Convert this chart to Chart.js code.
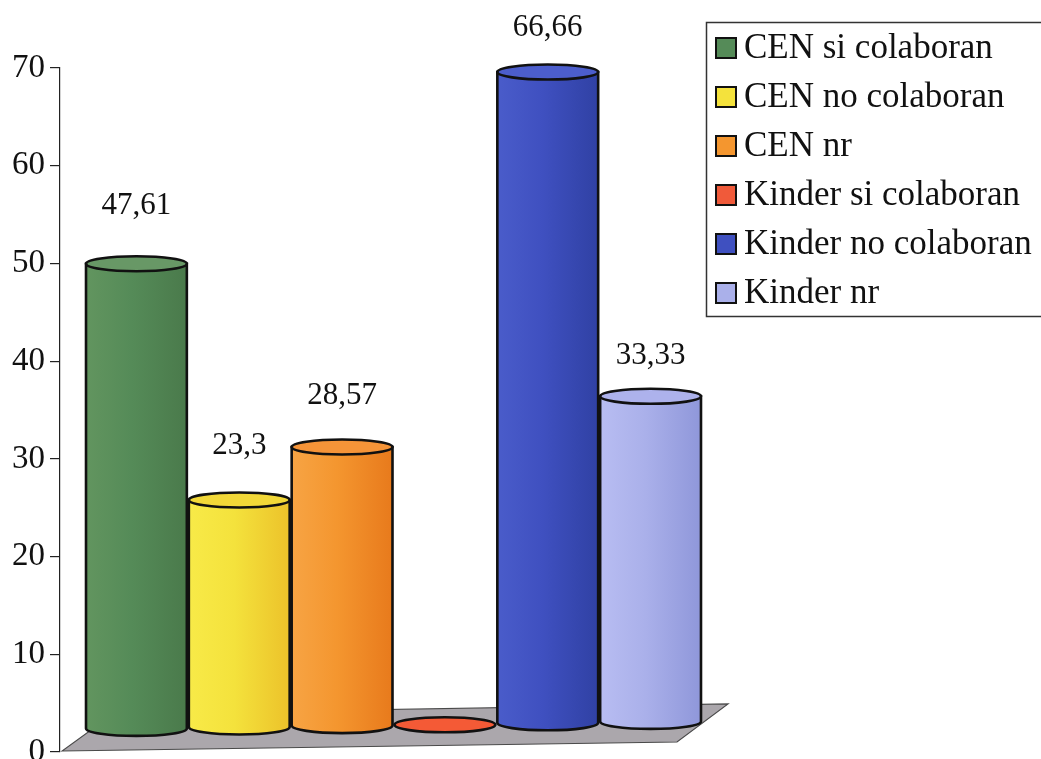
<!DOCTYPE html>
<html>
<head>
<meta charset="utf-8">
<script src="https://cdn.jsdelivr.net/npm/chart.js@4.4.1/dist/chart.umd.min.js"></script>
<style>
  html, body { margin: 0; padding: 0; background: #fff; overflow: hidden; }
  #wrap { width: 1041px; height: 759px; overflow: hidden; }
</style>
</head>
<body>
<div id="wrap"><canvas id="cyl" width="1041" height="780"></canvas></div>
<script>
// series shown as cylinders, one category
const seriesLabels = ['CEN si colaboran', 'CEN no colaboran', 'CEN nr', 'Kinder si colaboran', 'Kinder no colaboran', 'Kinder nr'];
const seriesValues = [47.61, 23.3, 28.57, 0, 66.66, 33.33];

// swatch colour + body shading (left / right) + lid colour
const seriesColors = ['#558b58', '#f4e23c', '#f4962f', '#f05a3a', '#3f50c0', '#aab0ea'];
const shadeLight = ['#62955f', '#f8ea48', '#f7a444', '#f36a48', '#4a5cca', '#b8bdf2'];
const shadeDark = ['#4a7a4b', '#ecc22a', '#e87a1c', '#dc4a2c', '#3041a4', '#8f97da'];
const lidColors = ['#689866', '#f2d838', '#f59438', '#f45a36', '#4c5ecc', '#adb2ec'];

const yMin = 0;
const yMax = 70;
const yStep = 10;

const SERIF = "'Liberation Serif', 'DejaVu Serif', serif";

function fmt(v) {
    return String(v).replace('.', ',');
}

const cylinderPlugin = {
    id: 'cylinderPlugin',
    beforeDatasetsDraw(chart) {
        const ctx = chart.ctx;
        const area = chart.chartArea;
        const zero = chart.scales.y.getPixelForValue(0);

        ctx.save();

        // grey floor in perspective
        ctx.beginPath();
        ctx.moveTo(area.left + 2, zero - 1);
        ctx.lineTo(area.left + 617, zero - 10);
        ctx.lineTo(area.right + 1, zero - 48);
        ctx.lineTo(area.left + 53, zero - 38);
        ctx.closePath();
        ctx.fillStyle = '#aba7ac';
        ctx.fill();
        ctx.strokeStyle = '#4a4a4a';
        ctx.lineWidth = 1.2;
        ctx.stroke();

        // back (right) to front (left)
        for (let i = chart.data.datasets.length - 1; i >= 0; i--) {
            const bar = chart.getDatasetMeta(i).data[0];
            if (!bar) continue;
            const p = bar.getProps(['x', 'y', 'base', 'width'], true);
            const lift = 23 + 1.4 * i;
            const rx = p.width / 2 - 1;
            const ry = 7.5;
            const top = p.y - lift;
            const bot = p.base - lift;

            ctx.lineWidth = 2.6;
            ctx.strokeStyle = '#111';

            if (bot - top > 0.5) {
                ctx.beginPath();
                ctx.moveTo(p.x - rx, top);
                ctx.lineTo(p.x - rx, bot);
                ctx.ellipse(p.x, bot, rx, ry, 0, Math.PI, 0, true);
                ctx.lineTo(p.x + rx, top);
                ctx.closePath();
                const g = ctx.createLinearGradient(p.x - rx, 0, p.x + rx, 0);
                g.addColorStop(0, shadeLight[i]);
                g.addColorStop(0.45, seriesColors[i]);
                g.addColorStop(1, shadeDark[i]);
                ctx.fillStyle = g;
                ctx.fill();
                ctx.stroke();
            }

            ctx.beginPath();
            ctx.ellipse(p.x, top, rx, ry, 0, 0, Math.PI * 2);
            ctx.fillStyle = lidColors[i];
            ctx.fill();
            ctx.stroke();

            const v = chart.data.datasets[i].data[0];
            if (v > 0) {
                ctx.fillStyle = '#111';
                ctx.font = '31px ' + SERIF;
                ctx.textAlign = 'center';
                ctx.textBaseline = 'middle';
                ctx.fillText(fmt(v), p.x, top - (58 - 3.5 * i));
            }
        }

        ctx.restore();
        return false;
    },
    afterDraw(chart) {
        const ctx = chart.ctx;
        const left = chart.width - 335;
        const boxTop = 22;
        const rowH = 49;
        const ds = chart.data.datasets;

        ctx.save();
        ctx.strokeStyle = '#333';
        ctx.lineWidth = 1.5;
        ctx.strokeRect(left + 0.5, boxTop + 0.5, 360, 294);

        ctx.font = '35px ' + SERIF;
        ctx.textAlign = 'left';
        ctx.textBaseline = 'middle';
        ds.forEach((d, i) => {
            const cy = 48 + i * rowH;
            ctx.fillStyle = d.backgroundColor;
            ctx.fillRect(left + 10, cy - 10, 20, 20);
            ctx.lineWidth = 2;
            ctx.strokeStyle = '#111';
            ctx.strokeRect(left + 10, cy - 10, 20, 20);
            ctx.fillStyle = '#111';
            ctx.fillText(d.label, left + 38, cy + 1);
        });
        ctx.restore();
    }
};

const datasets = seriesLabels.map((label, i) => ({
    label: label,
    data: [seriesValues[i]],
    backgroundColor: seriesColors[i],
    borderWidth: 0,
    barPercentage: 1,
    categoryPercentage: 0.925
}));

new Chart(document.getElementById('cyl'), {
    type: 'bar',
    data: { labels: [''], datasets: datasets },
    options: {
        responsive: false,
        animation: false,
        devicePixelRatio: 1,
        layout: { padding: { top: 68, right: 314, bottom: 28, left: 0 } },
        plugins: {
            legend: { display: false },
            tooltip: { enabled: false }
        },
        scales: {
            x: { display: false },
            y: {
                min: yMin,
                max: yMax,
                afterFit(scale) { scale.width = 60; },
                ticks: {
                    stepSize: yStep,
                    padding: 5,
                    color: '#111',
                    font: { family: SERIF, size: 33 }
                },
                grid: {
                    drawOnChartArea: false,
                    drawTicks: true,
                    tickLength: 10,
                    color: '#222',
                    lineWidth: 1.2
                },
                border: { display: true, color: '#222', width: 1.2 }
            }
        }
    },
    plugins: [cylinderPlugin]
});
</script>
</body>
</html>
